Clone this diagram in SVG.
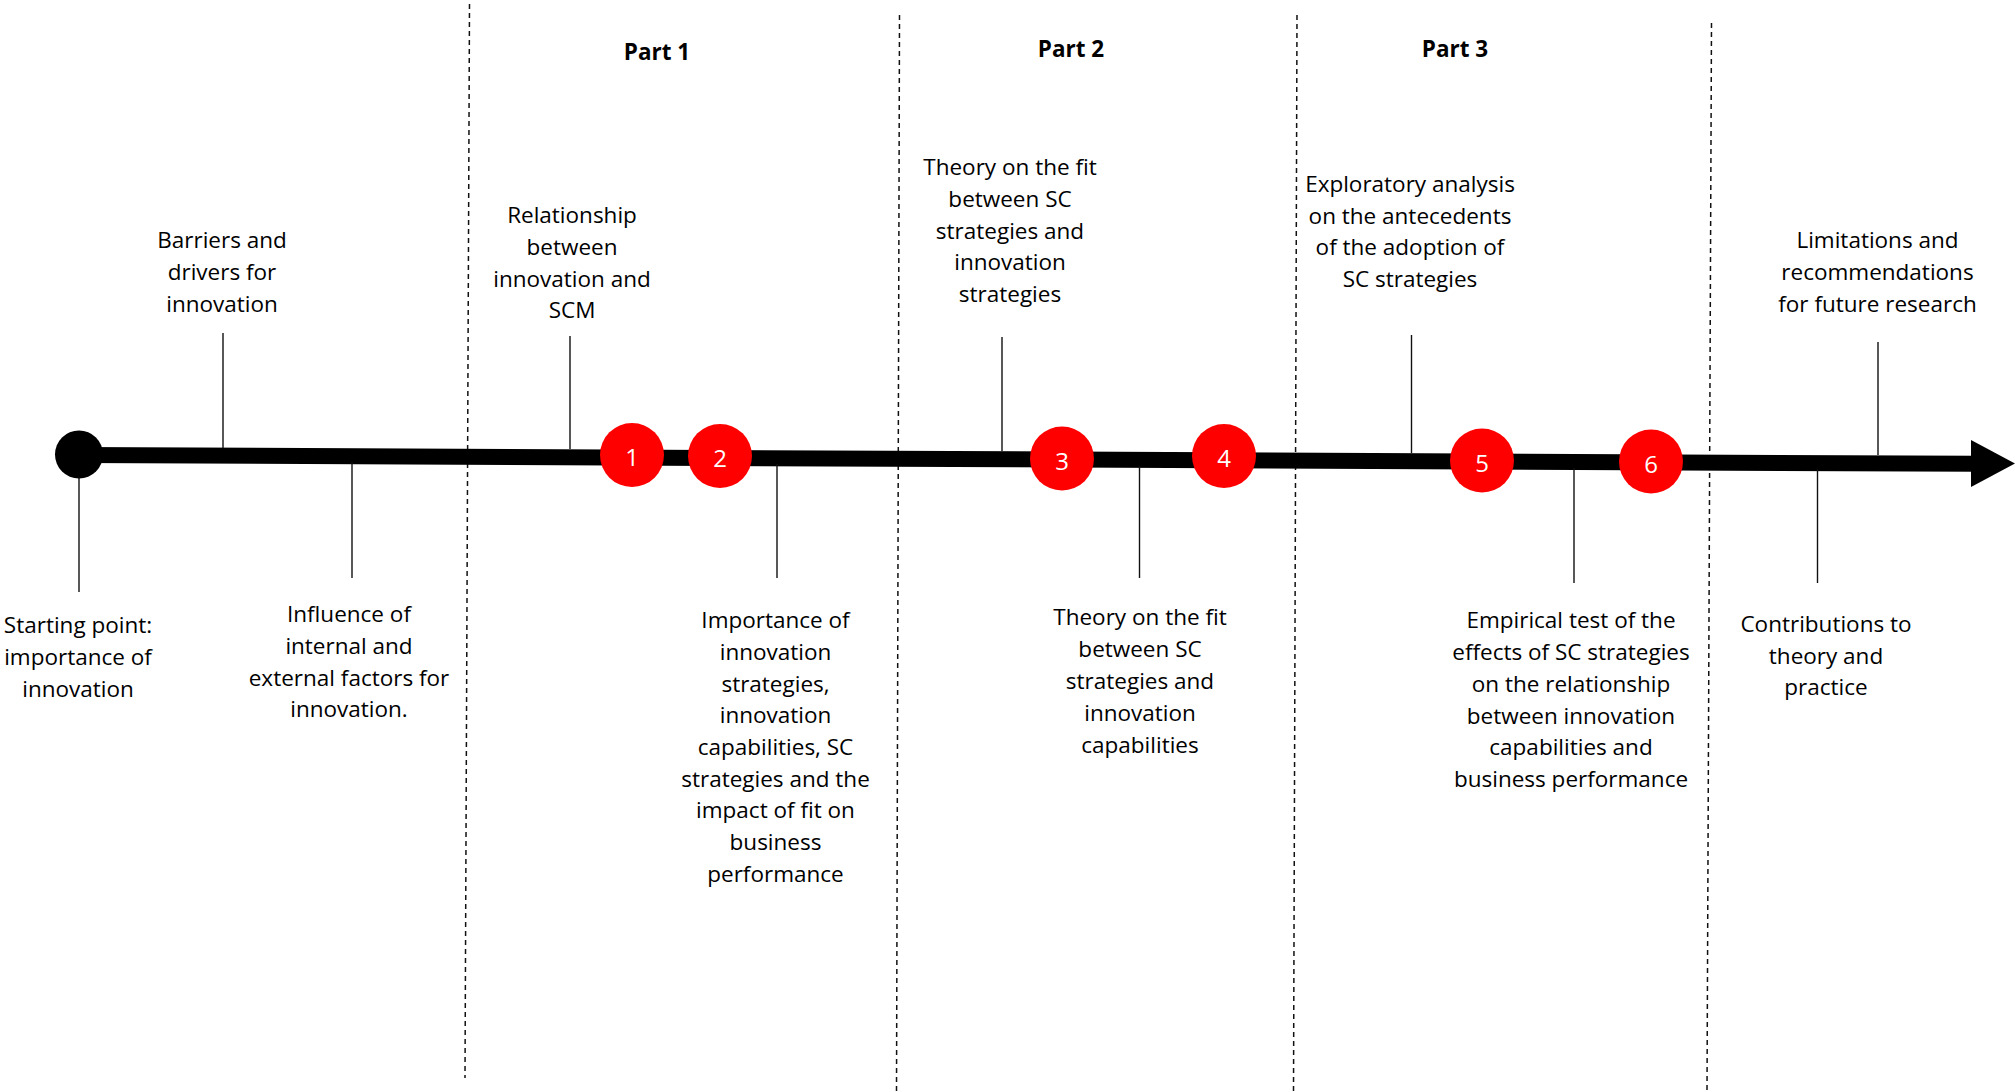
<svg xmlns="http://www.w3.org/2000/svg" width="2015" height="1092" viewBox="0 0 2015 1092">
  <style>
    .lbl { font-family: "Open Sans", "Noto Sans", "Liberation Sans", sans-serif; font-size: 22.5px; fill: #000; text-anchor: middle; }
    .part { font-family: "Open Sans", "Noto Sans", "Liberation Sans", sans-serif; font-size: 22.5px; font-weight: bold; fill: #000; text-anchor: middle; }
    .num { font-family: "Open Sans", "Noto Sans", "Liberation Sans", sans-serif; font-size: 24px; fill: #fff; text-anchor: middle; }
    .divider { stroke: #111; stroke-width: 1.5; stroke-dasharray: 5 4; fill: none; }
    .leader { stroke: #111; stroke-width: 1.4; fill: none; }
    .axis { stroke: #000; stroke-width: 16; fill: none; }
    .milestone { fill: #ff0000; }
  </style>

  <rect width="2015" height="1092" fill="#fff"/>

  <!-- section dividers -->
  <g id="dividers">
    <line class="divider" x1="469.5" y1="4" x2="465" y2="1078"/>
    <line class="divider" x1="899.5" y1="15" x2="896.5" y2="1092"/>
    <line class="divider" x1="1297" y1="15" x2="1293.5" y2="1092"/>
    <line class="divider" x1="1711.5" y1="23" x2="1707" y2="1092"/>
  </g>

  <!-- section headings -->
  <g id="part1"><text class="part" x="657" y="60">Part 1</text></g>
  <g id="part2"><text class="part" x="1071" y="57">Part 2</text></g>
  <g id="part3"><text class="part" x="1455" y="57">Part 3</text></g>

  <!-- timeline axis and leader lines -->
  <g id="connectors">
    <line class="axis" x1="79" y1="455" x2="1975" y2="463.8"/>
    <polygon points="1971,440 2015,463.5 1971,487" fill="#000"/>

    <line class="leader" x1="223" y1="333" x2="223" y2="448"/>
    <line class="leader" x1="570" y1="336" x2="570" y2="449"/>
    <line class="leader" x1="1002" y1="337" x2="1002" y2="451"/>
    <line class="leader" x1="1411.5" y1="335" x2="1411.5" y2="453"/>
    <line class="leader" x1="1878" y1="342" x2="1878" y2="455"/>

    <line class="leader" x1="79" y1="470" x2="79" y2="592"/>
    <line class="leader" x1="352" y1="462" x2="352" y2="578"/>
    <line class="leader" x1="777" y1="464" x2="777" y2="578"/>
    <line class="leader" x1="1139.5" y1="466" x2="1139.5" y2="578"/>
    <line class="leader" x1="1574" y1="468" x2="1574" y2="583"/>
    <line class="leader" x1="1817.5" y1="469" x2="1817.5" y2="583"/>
  </g>

  <!-- starting point -->
  <g id="start">
    <circle cx="79" cy="454.5" r="24" fill="#000"/>
    <text class="lbl" x="78" y="633">Starting point:</text>
    <text class="lbl" x="78" y="665">importance of</text>
    <text class="lbl" x="78" y="697">innovation</text>
  </g>

  <g id="barriers">
    <text class="lbl" x="222" y="248">Barriers and</text>
    <text class="lbl" x="222" y="280">drivers for</text>
    <text class="lbl" x="222" y="312">innovation</text>
  </g>

  <g id="influence">
    <text class="lbl" x="349" y="622">Influence of</text>
    <text class="lbl" x="349" y="654">internal and</text>
    <text class="lbl" x="349" y="686">external factors for</text>
    <text class="lbl" x="349" y="717">innovation.</text>
  </g>

  <g id="relationship">
    <text class="lbl" x="572" y="223">Relationship</text>
    <text class="lbl" x="572" y="255">between</text>
    <text class="lbl" x="572" y="287">innovation and</text>
    <text class="lbl" x="572" y="318">SCM</text>
  </g>

  <g id="importance">
    <text class="lbl" x="775.5" y="628">Importance of</text>
    <text class="lbl" x="775.5" y="660">innovation</text>
    <text class="lbl" x="775.5" y="691.5">strategies,</text>
    <text class="lbl" x="775.5" y="723">innovation</text>
    <text class="lbl" x="775.5" y="755">capabilities, SC</text>
    <text class="lbl" x="775.5" y="786.5">strategies and the</text>
    <text class="lbl" x="775.5" y="818">impact of fit on</text>
    <text class="lbl" x="775.5" y="850">business</text>
    <text class="lbl" x="775.5" y="882">performance</text>
  </g>

  <g id="fit-strategies">
    <text class="lbl" x="1010" y="175">Theory on the fit</text>
    <text class="lbl" x="1010" y="207">between SC</text>
    <text class="lbl" x="1010" y="238.5">strategies and</text>
    <text class="lbl" x="1010" y="270">innovation</text>
    <text class="lbl" x="1010" y="302">strategies</text>
  </g>

  <g id="fit-capabilities">
    <text class="lbl" x="1140" y="625">Theory on the fit</text>
    <text class="lbl" x="1140" y="657">between SC</text>
    <text class="lbl" x="1140" y="689">strategies and</text>
    <text class="lbl" x="1140" y="720.5">innovation</text>
    <text class="lbl" x="1140" y="752.5">capabilities</text>
  </g>

  <g id="exploratory">
    <text class="lbl" x="1410" y="192">Exploratory analysis</text>
    <text class="lbl" x="1410" y="223.5">on the antecedents</text>
    <text class="lbl" x="1410" y="255">of the adoption of</text>
    <text class="lbl" x="1410" y="287">SC strategies</text>
  </g>

  <g id="empirical">
    <text class="lbl" x="1571" y="628">Empirical test of the</text>
    <text class="lbl" x="1571" y="660">effects of SC strategies</text>
    <text class="lbl" x="1571" y="692">on the relationship</text>
    <text class="lbl" x="1571" y="723.5">between innovation</text>
    <text class="lbl" x="1571" y="755">capabilities and</text>
    <text class="lbl" x="1571" y="787">business performance</text>
  </g>

  <g id="contributions">
    <text class="lbl" x="1826" y="632">Contributions to</text>
    <text class="lbl" x="1826" y="663.5">theory and</text>
    <text class="lbl" x="1826" y="695">practice</text>
  </g>

  <g id="limitations">
    <text class="lbl" x="1877.5" y="248">Limitations and</text>
    <text class="lbl" x="1877.5" y="280">recommendations</text>
    <text class="lbl" x="1877.5" y="312">for future research</text>
  </g>

  <!-- numbered milestones -->
  <g id="m1"><circle class="milestone" cx="632" cy="455" r="32"/><text class="num" x="632" y="466">1</text></g>
  <g id="m2"><circle class="milestone" cx="720" cy="456" r="32"/><text class="num" x="720" y="467">2</text></g>
  <g id="m3"><circle class="milestone" cx="1062" cy="458.5" r="32"/><text class="num" x="1062" y="469.5">3</text></g>
  <g id="m4"><circle class="milestone" cx="1224" cy="456" r="32"/><text class="num" x="1224" y="467">4</text></g>
  <g id="m5"><circle class="milestone" cx="1482" cy="460.5" r="32"/><text class="num" x="1482" y="471.5">5</text></g>
  <g id="m6"><circle class="milestone" cx="1651" cy="461.5" r="32"/><text class="num" x="1651" y="472.5">6</text></g>
</svg>
